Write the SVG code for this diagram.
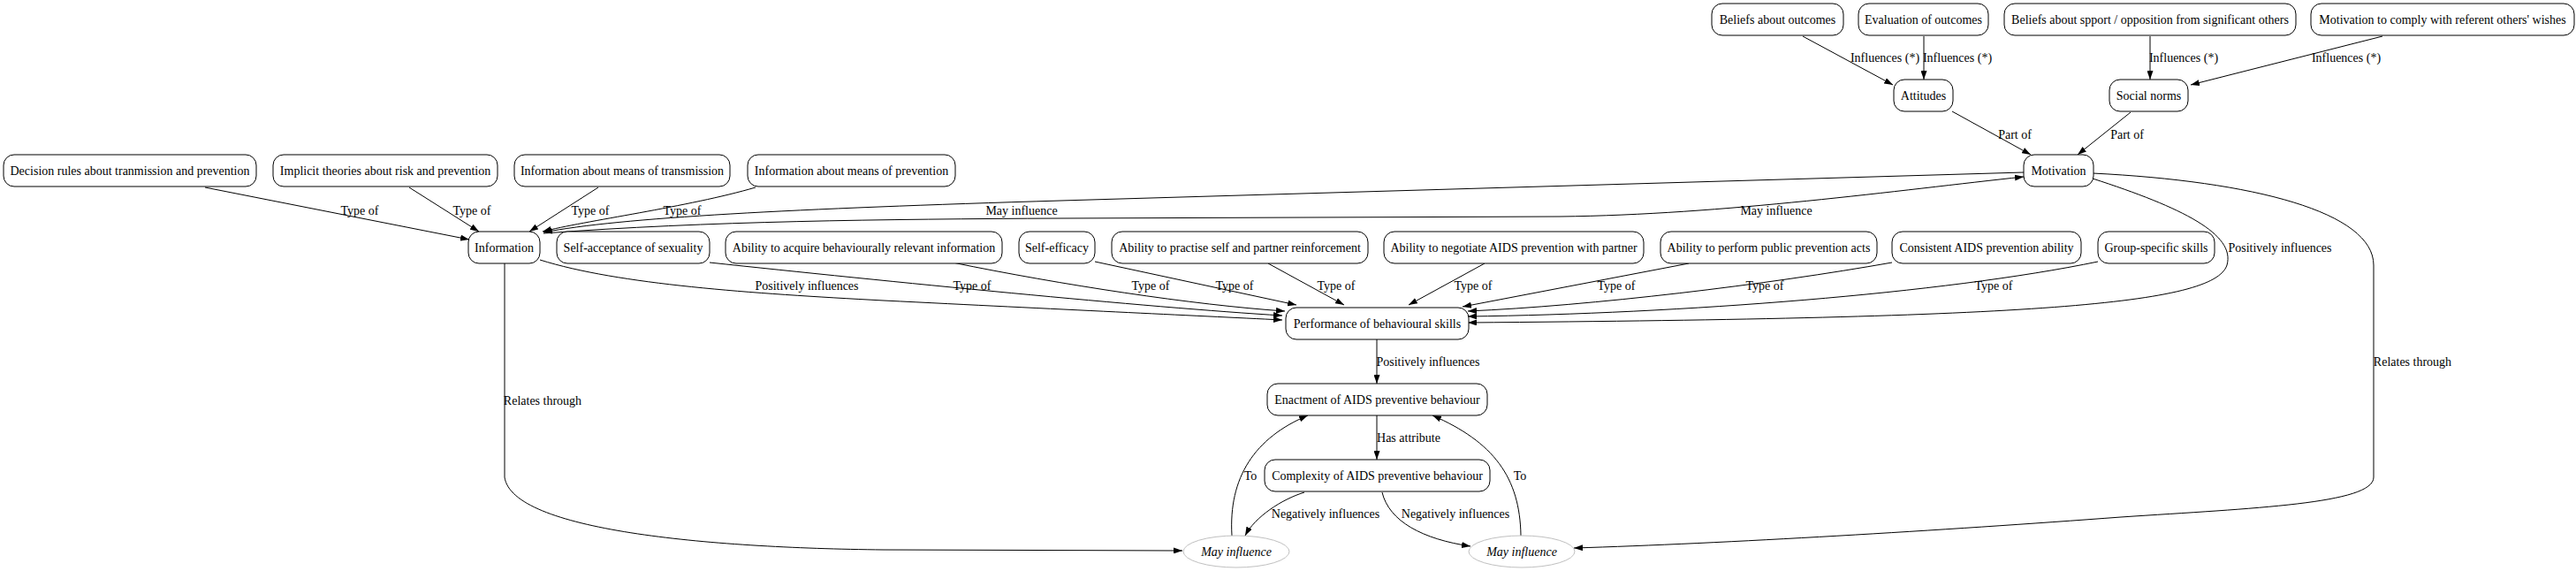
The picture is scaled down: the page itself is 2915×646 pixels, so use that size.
<svg xmlns="http://www.w3.org/2000/svg" width="2915" height="646" viewBox="0 0 2915 646">
<style>
text{font-family:"Liberation Serif","Times New Roman",serif;font-size:14px;fill:#000}
.n rect{fill:#fff;stroke:#000;stroke-width:1}
.n text{text-anchor:middle}
.e ellipse{fill:#fff;stroke:#c0c0c0;stroke-width:1}
.e text{text-anchor:middle;font-style:italic}
#edges path{fill:none;stroke:#000;stroke-width:1;marker-end:url(#arr)}
#labels text{text-anchor:middle}
</style>
<defs>
<marker id="arr" markerUnits="userSpaceOnUse" markerWidth="10" markerHeight="7" refX="10" refY="3.5" orient="auto">
<path d="M0,0 L10,3.5 L0,7 z" fill="#000"/>
</marker>
</defs>
<rect width="2915" height="646" fill="#fff"/>
<g id="edges">
<path d="M2040,41 L2142,96"/>
<path d="M2177,41 L2177,90"/>
<path d="M2433,41 L2433,90"/>
<path d="M2696,41 L2479,96"/>
<path d="M2209,126 L2298,175"/>
<path d="M2411,127 L2351,175"/>
<path d="M232,212 L531,271"/>
<path d="M463,212 L542,262"/>
<path d="M677,212 L599,262"/>
<path d="M855,212 C780,234 660,250 614,262"/>
<path d="M2290,195 L1200,227 C900,236 700,246 615,263"/>
<path d="M615,264 C800,250 1000,248 1200,247 L1765,245 C1950,243 2150,215 2290,200"/>
<path d="M611,294 C700,322 850,332 1000,340 C1200,350 1350,357 1451,362"/>
<path d="M803,297 C1000,318 1300,348 1451,357"/>
<path d="M1078,297 C1200,322 1350,345 1454,352"/>
<path d="M1239,296 L1467,345"/>
<path d="M1435,298 L1521,345"/>
<path d="M1680,298 L1594,345"/>
<path d="M1911,298 L1655,347"/>
<path d="M2141,297 C2000,322 1800,346 1661,352"/>
<path d="M2374,296 C2200,332 1900,355 1661,358"/>
<path d="M2368,202 C2470,235 2530,265 2520,300 C2505,345 2300,360 1661,365"/>
<path d="M2368,196 C2550,205 2686,240 2686,300 L2686,540 C2686,570 2550,575 2400,585 C2200,600 1950,615 1781,620"/>
<path d="M571,298 L571,540 C580,600 800,620 1000,622 L1338,623"/>
<path d="M1558,384 L1558,434"/>
<path d="M1558,470 L1558,520"/>
<path d="M1476,557 C1450,565 1420,585 1409,606"/>
<path d="M1564,557 C1572,590 1610,610 1664,618"/>
<path d="M1394,606 C1390,540 1420,495 1480,470"/>
<path d="M1721,606 C1720,540 1690,500 1621,470"/>
</g>
<g id="labels">
<text x="2133" y="69.5">Influences (*)</text>
<text x="2215" y="69.5">Influences (*)</text>
<text x="2471" y="69.5">Influences (*)</text>
<text x="2655" y="69.5">Influences (*)</text>
<text x="2280" y="156.5">Part of</text>
<text x="2407" y="156.5">Part of</text>
<text x="407" y="242.5">Type of</text>
<text x="534" y="242.5">Type of</text>
<text x="668" y="242.5">Type of</text>
<text x="772" y="242.5">Type of</text>
<text x="1156" y="242.5">May influence</text>
<text x="2010" y="242.5">May influence</text>
<text x="913" y="327.5">Positively influences</text>
<text x="1100" y="327.5">Type of</text>
<text x="1302" y="327.5">Type of</text>
<text x="1397" y="327.5">Type of</text>
<text x="1512" y="327.5">Type of</text>
<text x="1667" y="327.5">Type of</text>
<text x="1829" y="327.5">Type of</text>
<text x="1997" y="327.5">Type of</text>
<text x="2256" y="327.5">Type of</text>
<text x="2580" y="284.5">Positively influences</text>
<text x="614" y="457.5">Relates through</text>
<text x="2730" y="413.5">Relates through</text>
<text x="1616" y="413.5">Positively influences</text>
<text x="1594" y="499.5">Has attribute</text>
<text x="1415" y="542.5">To</text>
<text x="1720" y="542.5">To</text>
<text x="1500" y="585.5">Negatively influences</text>
<text x="1647" y="585.5">Negatively influences</text>
</g>
<g id="n_beliefs" class="n"><rect x="1937" y="4" width="149" height="36" rx="12"/><text x="2011.5" y="26.5">Beliefs about outcomes</text></g>
<g id="n_eval" class="n"><rect x="2103" y="4" width="147" height="36" rx="12"/><text x="2176.5" y="26.5">Evaluation of outcomes</text></g>
<g id="n_support" class="n"><rect x="2268" y="4" width="330" height="36" rx="12"/><text x="2433" y="26.5">Beliefs about spport / opposition from significant others</text></g>
<g id="n_comply" class="n"><rect x="2615" y="4" width="298" height="36" rx="12"/><text x="2764" y="26.5">Motivation to comply with referent others' wishes</text></g>
<g id="n_attitudes" class="n"><rect x="2143" y="90" width="67" height="36" rx="12"/><text x="2176.5" y="112.5">Attitudes</text></g>
<g id="n_norms" class="n"><rect x="2387" y="90" width="89" height="36" rx="12"/><text x="2431.5" y="112.5">Social norms</text></g>
<g id="n_decision" class="n"><rect x="4" y="175" width="286" height="36" rx="12"/><text x="147" y="197.5">Decision rules about tranmission and prevention</text></g>
<g id="n_implicit" class="n"><rect x="309" y="175" width="254" height="36" rx="12"/><text x="436" y="197.5">Implicit theories about risk and prevention</text></g>
<g id="n_transmission" class="n"><rect x="582" y="175" width="244" height="36" rx="12"/><text x="704" y="197.5">Information about means of transmission</text></g>
<g id="n_prevention" class="n"><rect x="846" y="175" width="235" height="36" rx="12"/><text x="963.5" y="197.5">Information about means of prevention</text></g>
<g id="n_motivation" class="n"><rect x="2290" y="175" width="79" height="36" rx="12"/><text x="2329.5" y="197.5">Motivation</text></g>
<g id="n_information" class="n"><rect x="530" y="262" width="81" height="36" rx="12"/><text x="570.5" y="284.5">Information</text></g>
<g id="n_selfaccept" class="n"><rect x="630" y="262" width="173" height="36" rx="12"/><text x="716.5" y="284.5">Self-acceptance of sexuality</text></g>
<g id="n_acquire" class="n"><rect x="821" y="262" width="313" height="36" rx="12"/><text x="977.5" y="284.5">Ability to acquire behaviourally relevant information</text></g>
<g id="n_selfeff" class="n"><rect x="1153" y="262" width="86" height="36" rx="12"/><text x="1196" y="284.5">Self-efficacy</text></g>
<g id="n_practise" class="n"><rect x="1258" y="262" width="290" height="36" rx="12"/><text x="1403" y="284.5">Ability to practise self and partner reinforcement</text></g>
<g id="n_negotiate" class="n"><rect x="1566" y="262" width="294" height="36" rx="12"/><text x="1713" y="284.5">Ability to negotiate AIDS prevention with partner</text></g>
<g id="n_public" class="n"><rect x="1879" y="262" width="245" height="36" rx="12"/><text x="2001.5" y="284.5">Ability to perform public prevention acts</text></g>
<g id="n_consistent" class="n"><rect x="2141" y="262" width="214" height="36" rx="12"/><text x="2248" y="284.5">Consistent AIDS prevention ability</text></g>
<g id="n_group" class="n"><rect x="2374" y="262" width="132" height="36" rx="12"/><text x="2440" y="284.5">Group-specific skills</text></g>
<g id="n_performance" class="n"><rect x="1455" y="348" width="207" height="36" rx="12"/><text x="1558.5" y="370.5">Performance of behavioural skills</text></g>
<g id="n_enactment" class="n"><rect x="1434" y="434" width="249" height="36" rx="12"/><text x="1558.5" y="456.5">Enactment of AIDS preventive behaviour</text></g>
<g id="n_complexity" class="n"><rect x="1431" y="520" width="255" height="36" rx="12"/><text x="1558.5" y="542.5">Complexity of AIDS preventive behaviour</text></g>
<g id="n_mayinf1" class="e"><ellipse cx="1399" cy="624" rx="60" ry="18"/><text x="1399" y="628.5">May influence</text></g>
<g id="n_mayinf2" class="e"><ellipse cx="1722" cy="624" rx="60" ry="18"/><text x="1722" y="628.5">May influence</text></g>
</svg>
